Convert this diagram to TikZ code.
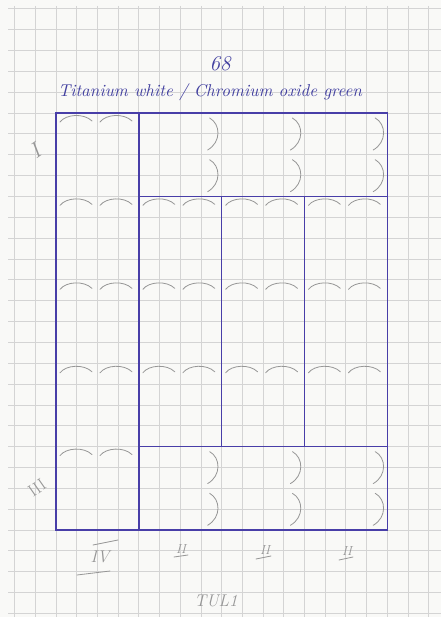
\documentclass[tikz,border=0pt]{standalone}
\definecolor{paper}{RGB}{249,249,247}
\definecolor{gridgray}{RGB}{212,212,212}
\definecolor{inkblue}{RGB}{72,62,168}
\definecolor{penblue}{RGB}{66,64,160}
\definecolor{pencilgray}{RGB}{150,150,150}
\tikzset{
  gridline/.style={draw=gridgray, line width=0.8pt},
  framebox/.style={draw=inkblue, line width=1.4pt},
  pencil/.style={draw=pencilgray, line width=0.8pt, line cap=round},
  pencillabel/.style={text=pencilgray, inner sep=0pt},
  inklabel/.style={text=penblue, inner sep=0pt},
}
\begin{document}
\begin{tikzpicture}[x=1pt,y=-1pt]
\fill[paper] (0,0) rectangle (441,617);
\useasboundingbox (0,0) rectangle (441,617);
% grid paper
\foreach \k in {-2,...,18} \draw[gridline] ({56+\k*20.7},6) -- ({56+\k*20.7},617);
\foreach \k in {-5,...,24} \draw[gridline] (8,{113+\k*20.85}) -- (441,{113+\k*20.85});
% key coordinates
\def\L{56}\def\R{387.2}\def\T{113}\def\B{530}
\def\Xa{138.8}\def\Xb{221.6}\def\Xc{304.4}
\def\Ya{196.4}\def\Yb{446.6}
% pencil arcs along top of cells
\foreach \xo/\yo in {\L/\T,\L/\Ya,\L/280.4,\L/363.8,\L/\Yb,
  \Xa/\Ya,\Xa/280.4,\Xa/363.8,\Xb/\Ya,\Xb/280.4,\Xb/363.8,\Xc/\Ya,\Xc/280.4,\Xc/363.8}{
  \draw[pencil] ({\xo+4},{\yo+9}) .. controls ({\xo+10},{\yo+1}) and ({\xo+28},{\yo}) .. ({\xo+36},{\yo+8});
  \draw[pencil] ({\xo+44},{\yo+9}) .. controls ({\xo+50},{\yo+1}) and ({\xo+68},{\yo}) .. ({\xo+76},{\yo+8});
}
% pencil arcs along right side of cells in top and bottom boxes
\foreach \xr in {\Xb,\Xc,\R}{
  \foreach \yt in {\T,154.7,\Yb,488.3}{
    \draw[pencil] ({\xr-12},{\yt+5}) .. controls ({\xr-1},{\yt+11}) and ({\xr},{\yt+29}) .. ({\xr-14},{\yt+37});
  }
}
% blue frame
\draw[framebox] (\L,\T) rectangle (\R,\B);
\draw[framebox] (\Xa,\T) -- (\Xa,\B);
\draw[framebox] (\Xa,\Ya) -- (\R,\Ya);
\draw[framebox] (\Xa,\Yb) -- (\R,\Yb);
\draw[framebox] (\Xb,\Ya) -- (\Xb,\Yb);
\draw[framebox] (\Xc,\Ya) -- (\Xc,\Yb);
% ink labels
\node[inklabel, font=\itshape\fontsize{21}{21}\selectfont] (num) at (220,64) {68};
\node[inklabel] (title) at (210,92) {\resizebox{304pt}{!}{\itshape Titanium white / Chromium oxide green}};
% pencil labels
\node[pencillabel, font=\itshape\fontsize{22}{22}\selectfont, rotate=35] (labI) at (35,151) {I};
\node[pencillabel, font=\fontsize{17}{17}\selectfont, rotate=35] (labIII) at (37,488) {III};
\node[pencillabel, font=\itshape\fontsize{17}{17}\selectfont] (labIV) at (100,557) {IV};
\draw[pencil] (93,545) -- (118,540);
\draw[pencil] (77,575) -- (110,571);
\node[pencillabel, font=\itshape\fontsize{13}{13}\selectfont] (labIIa) at (181,549) {II};
\node[pencillabel, font=\itshape\fontsize{13}{13}\selectfont] (labIIb) at (265,550) {II};
\node[pencillabel, font=\itshape\fontsize{13}{13}\selectfont] (labIIc) at (347,551) {II};
\draw[pencil] (174,557) -- (188,555);
\draw[pencil] (256,559) -- (271,556);
\draw[pencil] (339,560) -- (353,557);
\node[pencillabel, font=\itshape\fontsize{17}{17}\selectfont] (tul) at (216,601) {TUL1};
\end{tikzpicture}
\end{document}
